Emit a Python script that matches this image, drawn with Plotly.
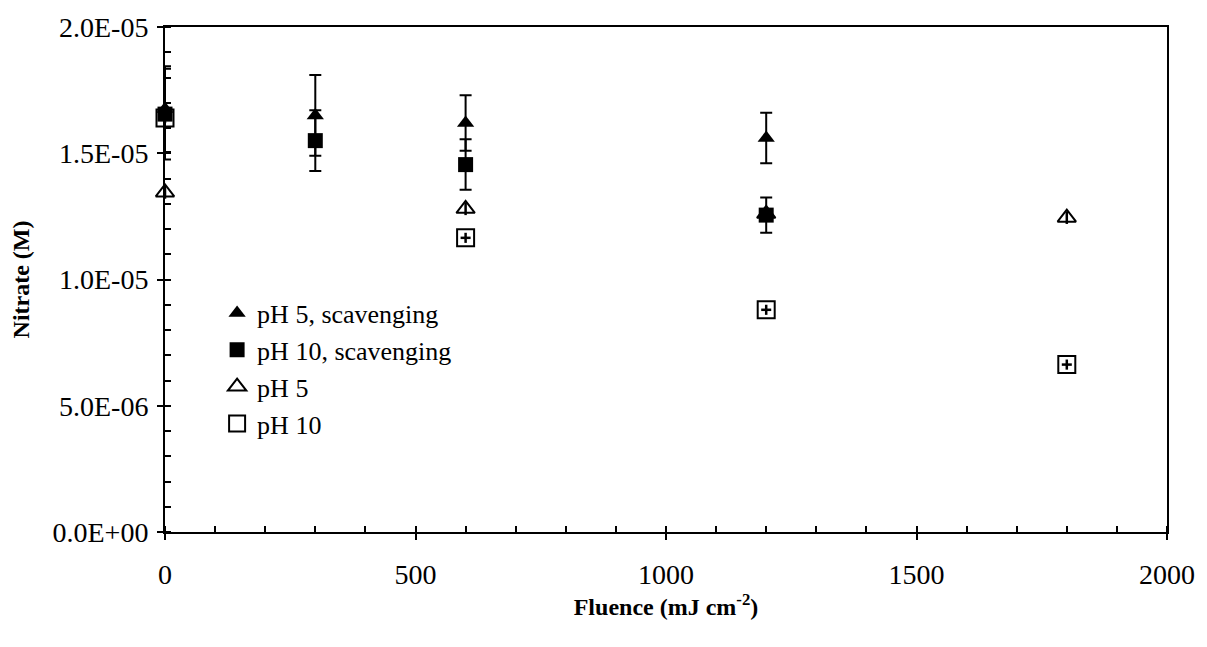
import plotly.graph_objects as go

# ---- data ----
fluence_scav = [0, 300, 600, 1200]
ph5_scav = [16.75e-6, 16.5e-6, 16.2e-6, 15.6e-6]
ph5_scav_err = [1.7e-6, 1.6e-6, 1.1e-6, 1.0e-6]
ph10_scav = [16.55e-6, 15.5e-6, 14.55e-6, 12.55e-6]
ph10_scav_err = [1.8e-6, 1.2e-6, 1.0e-6, 0.7e-6]

fluence_plain = [0, 600, 1200, 1800]
ph5_plain = [13.45e-6, 12.8e-6, 12.6e-6, 12.45e-6]
ph5_plain_err = [0.25e-6, 0.25e-6, 0.25e-6, 0.25e-6]
ph10_plain = [16.4e-6, 11.65e-6, 8.8e-6, 6.63e-6]
ph10_plain_err = [0.2e-6, 0.2e-6, 0.2e-6, 0.2e-6]
ph10_plain_xerr = [10, 10, 10, 10]

y_tickvals = [0, 5e-6, 1e-5, 1.5e-5, 2e-5]
y_ticktext = ["0.0E+00", "5.0E-06", "1.0E-05", "1.5E-05", "2.0E-05"]
x_tickvals = [0, 500, 1000, 1500, 2000]
x_ticktext = ["0", "500", "1000", "1500", "2000"]

FONT = "Liberation Serif, Times New Roman, serif"

def err(vals, w, t=2):
    return dict(type="data", array=vals, visible=True, color="black", thickness=t, width=w)

fig = go.Figure()
fig.add_trace(go.Scatter(
    x=fluence_scav, y=ph5_scav, mode="markers", name="pH 5, scavenging",
    marker=dict(symbol="triangle-up", size=15, color="black"),
    error_y=err(ph5_scav_err, 6), cliponaxis=False))
fig.add_trace(go.Scatter(
    x=fluence_scav, y=ph10_scav, mode="markers", name="pH 10, scavenging",
    marker=dict(symbol="square", size=15, color="black"),
    error_y=err(ph10_scav_err, 6), cliponaxis=False))
fig.add_trace(go.Scatter(
    x=fluence_plain, y=ph5_plain, mode="markers", name="pH 5",
    marker=dict(symbol="triangle-up-open", size=16, color="black", line=dict(width=2)),
    error_y=err(ph5_plain_err, 0, 2.5), cliponaxis=False))
fig.add_trace(go.Scatter(
    x=fluence_plain, y=ph10_plain, mode="markers", name="pH 10",
    marker=dict(symbol="square-open", size=17, color="black", line=dict(width=2)),
    error_y=err(ph10_plain_err, 0, 2.5), error_x=err(ph10_plain_xerr, 0, 2.5),
    cliponaxis=False))
# invisible trace to anchor the overlay axes (inner half of crossing ticks)
fig.add_trace(go.Scatter(x=[], y=[], xaxis="x2", yaxis="y2", showlegend=False, hoverinfo="skip"))

axis_common = dict(showline=True, linecolor="black", linewidth=2, mirror=True,
                   showgrid=False, zeroline=False, ticks="outside", ticklen=6,
                   tickwidth=2, tickcolor="black",
                   tickfont=dict(family=FONT, size=28, color="black"))

fig.update_layout(
    width=1207, height=647,
    margin=dict(l=165, r=32, t=22, b=115),
    paper_bgcolor="white", plot_bgcolor="white",
    font=dict(family=FONT, color="black"),
    xaxis=dict(range=[0, 2000], tickvals=x_tickvals, ticktext=x_ticktext,
               minor=dict(ticks="inside", dtick=100, ticklen=6, tickwidth=1.5, tickcolor="black"),
               ticklabelstandoff=10,
               title=dict(text="<b>Fluence (mJ cm<sup>-2</sup>)</b>", font=dict(family=FONT, size=24),
                          standoff=6),
               **axis_common),
    yaxis=dict(range=[0, 2e-5], tickvals=y_tickvals, ticktext=y_ticktext,
               minor=dict(ticks="inside", dtick=1e-6, ticklen=6, tickwidth=1.5, tickcolor="black"),
               ticklabelstandoff=3,
               title=dict(text="<b>Nitrate (M)</b>", font=dict(family=FONT, size=24), standoff=16),
               **axis_common),
    xaxis2=dict(overlaying="x", range=[0, 2000], tickvals=x_tickvals, ticks="inside",
                ticklen=6, tickwidth=2, tickcolor="black", showticklabels=False,
                showgrid=False, zeroline=False, showline=False, anchor="y2"),
    yaxis2=dict(overlaying="y", range=[0, 2e-5], tickvals=y_tickvals, ticks="inside",
                ticklen=6, tickwidth=2, tickcolor="black", showticklabels=False,
                showgrid=False, zeroline=False, showline=False, anchor="x2"),
    legend=dict(x=0.052, y=0.48, xanchor="left", yanchor="top",
                bgcolor="rgba(0,0,0,0)", borderwidth=0,
                font=dict(family=FONT, size=26), tracegroupgap=0,
                itemwidth=30),
    showlegend=True,
)

fig.write_html("out.html")
